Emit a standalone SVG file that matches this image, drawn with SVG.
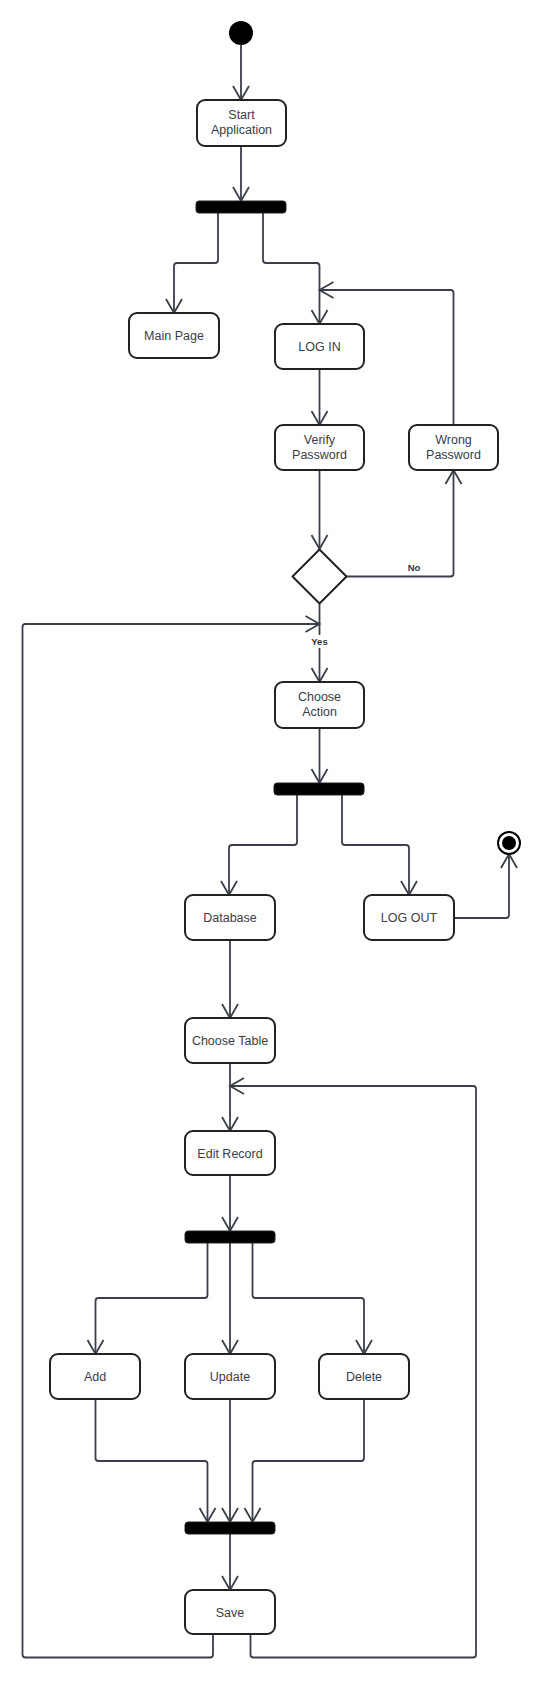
<svg xmlns="http://www.w3.org/2000/svg" width="544" height="1681" viewBox="0 0 544 1681">
<style>
.box{fill:#fff;stroke:#222;stroke-width:2}
.bar{fill:#000;stroke:#222;stroke-width:1}
.t{font-family:"Liberation Sans",Arial,sans-serif;font-size:12.5px;fill:#3a3d45;text-anchor:middle}
.lbl{font-family:"Liberation Sans",Arial,sans-serif;font-size:9.5px;font-weight:bold;fill:#333;text-anchor:middle}
.c{fill:none;stroke:#3a3f4a;stroke-width:1.8;stroke-linejoin:round;marker-end:url(#arr)}
</style>
<defs>
<marker id="arr" viewBox="-16 -10 20 20" refX="0" refY="0" markerWidth="20" markerHeight="20" orient="auto" markerUnits="userSpaceOnUse">
<path d="M-14,-8 L0,0 L-14,8" fill="none" stroke="#3a3f4a" stroke-width="1.8"/>
</marker>
</defs>
<rect width="544" height="1681" fill="#fff"/>
<g id="connectors">
<path class="c" d="M241,45 V100"/>
<path class="c" d="M241,146 V201"/>
<path class="c" d="M218,213 V260 Q218,263 215,263 H177 Q174,263 174,266 V313"/>
<path class="c" d="M263,213 V260 Q263,263 266,263 H316.5 Q319.5,263 319.5,266 V324"/>
<path class="c" d="M319.5,369 V425"/>
<path class="c" d="M319.5,470 V549"/>
<path class="c" d="M347,576.5 H450.5 Q453.5,576.5 453.5,573.5 V470"/>
<path class="c" d="M453.5,425 V293 Q453.5,290 450.5,290 H319.5"/>
<path class="c" d="M319.5,604 V682"/>
<rect x="307" y="635" width="25" height="13" fill="#fff"/>
<text class="lbl" x="319.5" y="645">Yes</text>
<text class="lbl" x="414" y="570.5">No</text>
<path class="c" d="M319.5,728 V783"/>
<path class="c" d="M297,795 V842 Q297,845 294,845 H232 Q229,845 229,848 V895"/>
<path class="c" d="M342,795 V842 Q342,845 345,845 H406 Q409,845 409,848 V895"/>
<path class="c" d="M454,918 H506 Q509,918 509,915 V854"/>
<path class="c" d="M230,940 V1018"/>
<path class="c" d="M230,1063 V1131"/>
<path class="c" d="M230,1175 V1231"/>
<path class="c" d="M207.5,1243 V1295 Q207.5,1298 204.5,1298 H98.5 Q95.5,1298 95.5,1301 V1354"/>
<path class="c" d="M230,1243 V1354"/>
<path class="c" d="M252.5,1243 V1295 Q252.5,1298 255.5,1298 H361 Q364,1298 364,1301 V1354"/>
<path class="c" d="M95.5,1399 V1458 Q95.5,1461 98.5,1461 H204.5 Q207.5,1461 207.5,1464 V1522"/>
<path class="c" d="M230,1399 V1522"/>
<path class="c" d="M364,1399 V1458 Q364,1461 361,1461 H255.5 Q252.5,1461 252.5,1464 V1522"/>
<path class="c" d="M230,1534 V1590"/>
<path class="c" d="M213,1634 V1654.5 Q213,1657.5 210,1657.5 H25.5 Q22.5,1657.5 22.5,1654.5 V627 Q22.5,624 25.5,624 H319.5"/>
<path class="c" d="M250.5,1634 V1654.5 Q250.5,1657.5 253.5,1657.5 H473 Q476,1657.5 476,1654.5 V1089 Q476,1086 473,1086 H230"/>
</g>
<g id="start"><circle cx="241" cy="33" r="12" fill="#000"/></g>
<g id="start-application"><rect class="box" x="197" y="100" width="89" height="46" rx="8"/><text class="t" x="241.5" y="119">Start</text><text class="t" x="241.5" y="134">Application</text></g>
<g id="fork1"><rect class="bar" x="196" y="201" width="90" height="12" rx="3"/></g>
<g id="main-page"><rect class="box" x="129" y="313" width="90" height="45" rx="8"/><text class="t" x="174" y="340">Main Page</text></g>
<g id="log-in"><rect class="box" x="275" y="324" width="89" height="45" rx="8"/><text class="t" x="319.5" y="351">LOG IN</text></g>
<g id="verify-password"><rect class="box" x="275" y="425" width="89" height="45" rx="8"/><text class="t" x="319.5" y="444">Verify</text><text class="t" x="319.5" y="459">Password</text></g>
<g id="wrong-password"><rect class="box" x="409" y="425" width="89" height="45" rx="8"/><text class="t" x="453.5" y="444">Wrong</text><text class="t" x="453.5" y="459">Password</text></g>
<g id="decision"><polygon class="box" points="319.5,549.5 346.5,576.5 319.5,603.5 292.5,576.5" stroke-linejoin="round"/></g>
<g id="choose-action"><rect class="box" x="275" y="682" width="89" height="46" rx="8"/><text class="t" x="319.5" y="701">Choose</text><text class="t" x="319.5" y="716">Action</text></g>
<g id="fork2"><rect class="bar" x="274" y="783" width="90" height="12" rx="3"/></g>
<g id="database"><rect class="box" x="185" y="895" width="90" height="45" rx="8"/><text class="t" x="230" y="922">Database</text></g>
<g id="log-out"><rect class="box" x="364" y="895" width="90" height="45" rx="8"/><text class="t" x="409" y="922">LOG OUT</text></g>
<g id="end"><circle cx="509" cy="843" r="11" fill="#fff" stroke="#000" stroke-width="2"/><circle cx="509" cy="843" r="7" fill="#000"/></g>
<g id="choose-table"><rect class="box" x="185" y="1018" width="90" height="45" rx="8"/><text class="t" x="230" y="1045">Choose Table</text></g>
<g id="edit-record"><rect class="box" x="185" y="1131" width="90" height="44" rx="8"/><text class="t" x="230" y="1157.5">Edit Record</text></g>
<g id="fork3"><rect class="bar" x="185" y="1231" width="90" height="12" rx="3"/></g>
<g id="add"><rect class="box" x="50" y="1354" width="90" height="45" rx="8"/><text class="t" x="95" y="1381">Add</text></g>
<g id="update"><rect class="box" x="185" y="1354" width="90" height="45" rx="8"/><text class="t" x="230" y="1381">Update</text></g>
<g id="delete"><rect class="box" x="319" y="1354" width="90" height="45" rx="8"/><text class="t" x="364" y="1381">Delete</text></g>
<g id="join"><rect class="bar" x="185" y="1522" width="90" height="12" rx="3"/></g>
<g id="save"><rect class="box" x="185" y="1590" width="90" height="44" rx="8"/><text class="t" x="230" y="1616.5">Save</text></g>
</svg>
